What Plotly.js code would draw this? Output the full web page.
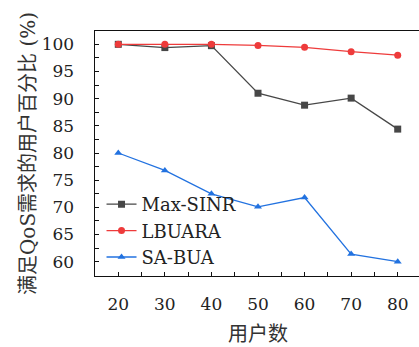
<!DOCTYPE html>
<html>
<head>
<meta charset="utf-8">
<script src="https://cdn.plot.ly/plotly-3.0.1.min.js"></script>
<style>
html,body{margin:0;padding:0;overflow:hidden;background:#fff;}
#chart{width:430px;height:347px;}
</style>
</head>
<body>
<div id="chart"></div>
<script>
const users = [20, 30, 40, 50, 60, 70, 80];
const maxSinr = [100, 99.4, 99.75, 91.0, 88.8, 90.1, 84.4];
const lbuara = [100, 100, 100, 99.8, 99.45, 98.65, 98.0];
const saBua = [80.0, 76.8, 72.5, 70.1, 71.8, 61.4, 60.0];
const seriesNames = ['Max-SINR', 'LBUARA', 'SA-BUA'];
const yTicks = [60, 65, 70, 75, 80, 85, 90, 95, 100];

const serif = '"DejaVu Serif", serif';
const cjk = '"DejaVu Serif", "Noto Sans CJK SC", sans-serif';

const traces = [
  {x: users, y: maxSinr, name: seriesNames[0], mode: 'lines+markers',
   line: {color: '#474747', width: 1.3}, marker: {symbol: 'square', size: 7, color: '#474747'}},
  {x: users, y: lbuara, name: seriesNames[1], mode: 'lines+markers',
   line: {color: '#ee3b3b', width: 1.3}, marker: {symbol: 'circle', size: 7, color: '#ee3b3b'}},
  {x: users, y: saBua, name: seriesNames[2], mode: 'lines+markers',
   line: {color: '#2272e0', width: 1.3}, marker: {symbol: 'triangle-up', size: 7, color: '#2272e0'}}
];

const layout = {
  width: 430, height: 347,
  margin: {l: 95, r: 9, t: 31, b: 71},
  paper_bgcolor: '#fff', plot_bgcolor: '#fff',
  showlegend: true,
  legend: {x: 0.02, xanchor: 'left', y: 0.0, yanchor: 'bottom',
           bgcolor: 'rgba(0,0,0,0)', font: {family: serif, size: 18, color: '#222'},
           tracegroupgap: 0, itemwidth: 30},
  xaxis: {
    range: [15, 85], tickvals: users, ticktext: users.map(String),
    ticks: 'inside', ticklen: 4, tickwidth: 1, tickcolor: '#111',
    minor: {dtick: 5, tick0: 0, ticks: 'inside', ticklen: 4, tickcolor: '#111'},
    showline: true, linecolor: '#111', linewidth: 1.4, mirror: true,
    showgrid: false, zeroline: false,
    tickfont: {family: serif, size: 17, color: '#222'}, ticklabelstandoff: 12,
    title: {text: '用户数', font: {family: cjk, size: 20, color: '#333'}, standoff: 14}
  },
  yaxis: {
    range: [57.37, 102.45], tickvals: yTicks, ticktext: yTicks.map(String),
    ticks: 'inside', ticklen: 4, tickwidth: 1, tickcolor: '#111',
    minor: {dtick: 2.5, tick0: 0, ticks: 'inside', ticklen: 4, tickcolor: '#111'},
    showline: true, linecolor: '#111', linewidth: 1.4, mirror: true,
    showgrid: false, zeroline: false,
    tickfont: {family: serif, size: 17, color: '#222'}, ticklabelstandoff: 16,
    title: {text: '满足QoS需求的用户百分比 (%)', font: {family: cjk, size: 20, color: '#333'}, standoff: 0}
  }
};

Plotly.newPlot('chart', traces, layout, {displayModeBar: false, staticPlot: true});
</script>
</body>
</html>
